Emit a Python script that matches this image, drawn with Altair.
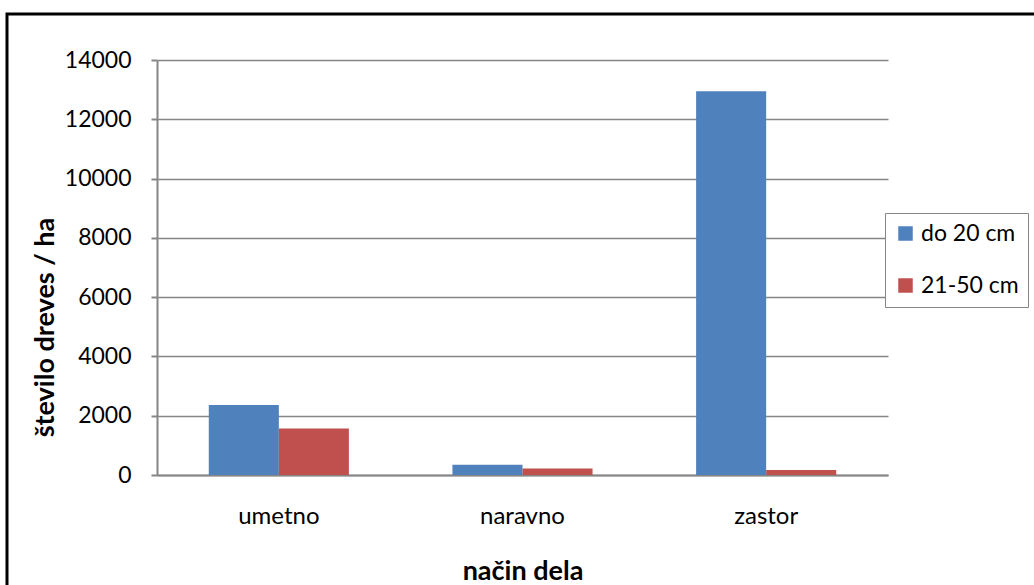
import altair as alt
import pandas as pd

# Tree density per management method, split by diameter class
categories = ["umetno", "naravno", "zastor"]
series = ["do 20 cm", "21-50 cm"]
do_20_cm = [2360, 350, 12950]
cm_21_50 = [1570, 220, 170]
y_ticks = [0, 2000, 4000, 6000, 8000, 10000, 12000, 14000]
colors = ["#4F81BD", "#C0504D"]

rows = []
for i, cat in enumerate(categories):
    rows.append({"nacin": cat, "razred": series[0], "vrednost": do_20_cm[i]})
    rows.append({"nacin": cat, "razred": series[1], "vrednost": cm_21_50[i]})
df = pd.DataFrame(rows)

FONT = "Lato"
W, H = 731, 415
LEFT, TOP = 157, 60

bars = alt.Chart(df).mark_bar().encode(
    x=alt.X(
        "nacin:N",
        sort=categories,
        scale=alt.Scale(paddingInner=0.425, paddingOuter=0.2125),
        axis=alt.Axis(
            title="način dela",
            labelAngle=0,
            labelFontSize=24,
            labelFont=FONT,
            labelColor="#000000",
            labelPadding=29,
            ticks=False,
            domainColor="#868686",
            domainWidth=2,
            titleFont=FONT,
            titleFontSize=27,
            titleFontWeight="bold",
            titleColor="#000000",
            titlePadding=30,
        ),
    ),
    xOffset=alt.XOffset("razred:N", sort=series, scale=alt.Scale(paddingInner=0, paddingOuter=0)),
    y=alt.Y(
        "vrednost:Q",
        scale=alt.Scale(domain=[0, 14000], nice=False),
        axis=alt.Axis(
            title="število dreves / ha",
            values=y_ticks,
            format="d",
            labelFontSize=23,
            labelFont=FONT,
            labelColor="#000000",
            labelPadding=20,
            tickSize=6,
            tickColor="#868686",
            tickWidth=2,
            domainColor="#868686",
            domainWidth=2,
            gridColor="#868686",
            gridWidth=1.5,
            titleFont=FONT,
            titleFontSize=27,
            titleFontWeight="bold",
            titleColor="#000000",
            titleX=-112,
            titleY=267,
            titleAngle=270,
            titleAlign="center",
            titleBaseline="middle",
        ),
    ),
    color=alt.Color(
        "razred:N",
        sort=series,
        scale=alt.Scale(domain=series, range=colors),
        legend=alt.Legend(
            title=None,
            orient="none",
            legendX=728,
            legendY=153,
            symbolType="square",
            symbolSize=210,
            symbolStrokeWidth=0,
            labelFont=FONT,
            labelFontSize=23,
            labelColor="#000000",
            rowPadding=28,
            padding=9,
            strokeColor="#868686",
            fillColor="#ffffff",
            labelOffset=4,
        ),
    ),
)

# Outer chart frame
frame = alt.Chart(pd.DataFrame({"k": [0]})).mark_rect(
    fill=None, stroke="#000000", strokeWidth=3, clip=False
).encode(
    x=alt.value(7 - LEFT),
    x2=alt.value(1034 - LEFT + 20),
    y=alt.value(14 - TOP),
    y2=alt.value(585 - TOP + 20),
)

chart = alt.layer(frame, bars).properties(
    width=W,
    height=H,
    autosize=alt.AutoSizeParams(type="none"),
    padding={"left": LEFT, "top": TOP, "right": 1034 - LEFT - W, "bottom": 585 - TOP - H},
    background="#ffffff",
).configure_view(stroke=None)

chart.save("out.html", embed_options={"renderer": "svg", "actions": False})
